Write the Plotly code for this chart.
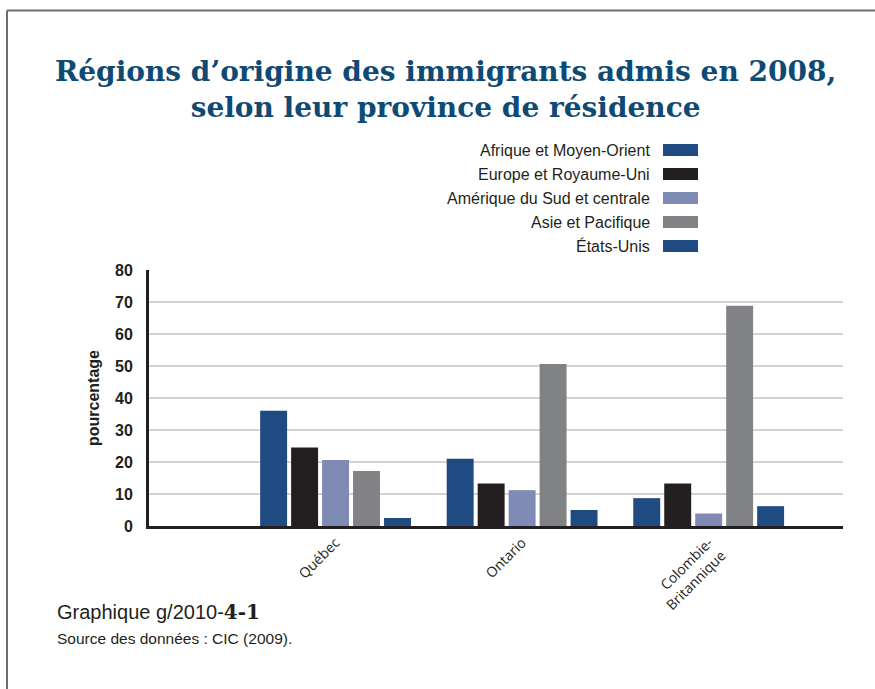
import plotly.graph_objects as go

provinces = ["Québec", "Ontario", "Colombie-<br>Britannique"]
series_names = ["Afrique et Moyen-Orient", "Europe et Royaume-Uni",
                "Amérique du Sud et centrale", "Asie et Pacifique", "États-Unis"]
afrique = [36.0, 21.0, 8.7]
europe = [24.5, 13.3, 13.3]
amerique = [20.6, 11.2, 3.9]
asie = [17.2, 50.6, 68.8]
etats_unis = [2.5, 5.0, 6.2]
series_values = [afrique, europe, amerique, asie, etats_unis]
colors = ["#1f4a82", "#231f20", "#7f8bb5", "#808285", "#1f4a82"]
y_ticks = [0, 10, 20, 30, 40, 50, 60, 70, 80]

W, H = 875, 689
L, R, T, B = 149, 843, 270, 526


def px(x):
    return (x - L) / (R - L)


def py(y):
    return (B - y) / (B - T)


fig = go.Figure()
xpos = [1, 2, 3]
for name, vals, col in zip(series_names, series_values, colors):
    fig.add_trace(go.Bar(x=xpos, y=vals, name=name, marker_color=col,
                         marker_line_width=0, showlegend=False))

annotations = []
shapes = []

# Title
annotations.append(dict(
    text="<b>Régions d’origine des immigrants admis en 2008,<br>selon leur province de résidence</b>",
    x=px(445), y=py(89), xref="paper", yref="paper", xanchor="center", yanchor="middle",
    showarrow=False, align="center",
    font=dict(family="DejaVu Serif", size=28, color="#0e4a74")))

# Manual legend (text right, swatch on right)
for i, (name, col) in enumerate(zip(series_names, colors)):
    yc = 150 + 24 * i
    annotations.append(dict(text=name, x=px(652), y=py(yc), xref="paper", yref="paper",
                            xanchor="right", yanchor="middle", showarrow=False,
                            font=dict(family="Liberation Sans", size=16, color="#231f20")))
    shapes.append(dict(type="rect", xref="paper", yref="paper",
                       x0=px(663), x1=px(698), y0=py(yc - 6), y1=py(yc + 6),
                       fillcolor=col, line=dict(width=0)))

# Y axis title
annotations.append(dict(text="<b>pourcentage</b>", x=px(93), y=py(398), xref="paper", yref="paper",
                        xanchor="center", yanchor="middle", textangle=-90, showarrow=False,
                        font=dict(family="Liberation Sans", size=16, color="#231f20")))

# Footer
annotations.append(dict(
    text='Graphique g/2010-<span style="font-family:DejaVu Serif"><b>4-1</b></span>',
    x=px(55), y=py(612), xref="paper", yref="paper", xanchor="left", yanchor="middle",
    showarrow=False, font=dict(family="Liberation Sans", size=20, color="#231f20")))
annotations.append(dict(
    text="Source des données : CIC (2009).",
    x=px(55), y=py(638), xref="paper", yref="paper", xanchor="left", yanchor="middle",
    showarrow=False, font=dict(family="Liberation Sans", size=15.5, color="#231f20")))

# Frame
shapes.append(dict(type="line", xref="paper", yref="paper", x0=px(7), x1=px(880),
                   y0=py(10.5), y1=py(10.5), line=dict(color="#6d6d6d", width=2)))
shapes.append(dict(type="line", xref="paper", yref="paper", x0=px(7), x1=px(7),
                   y0=py(10.5), y1=py(700), line=dict(color="#6d6d6d", width=2)))

fig.update_layout(
    width=W, height=H,
    margin=dict(l=L, r=W - R, t=T, b=H - B),
    paper_bgcolor="white", plot_bgcolor="white",
    barmode="group", bargap=0.17, bargroupgap=0.13,
    annotations=annotations, shapes=shapes,
    showlegend=False,
    xaxis=dict(range=[0, 3.72], tickmode="array", tickvals=xpos, ticktext=provinces,
               tickangle=-45, showgrid=False, zeroline=False,
               showline=True, linecolor="#231f20", linewidth=3,
               tickfont=dict(family="Open Sans", size=14, color="#231f20")),
    yaxis=dict(range=[0, 80], tickmode="array", tickvals=y_ticks,
               showgrid=True, gridcolor="#d3d3d3", gridwidth=2, zeroline=False,
               showline=True, linecolor="#231f20", linewidth=3,
               ticklabelstandoff=10,
               tickfont=dict(family="Liberation Sans", size=16, color="#231f20",
                             weight="bold")),
)

fig.write_html("out.html")
